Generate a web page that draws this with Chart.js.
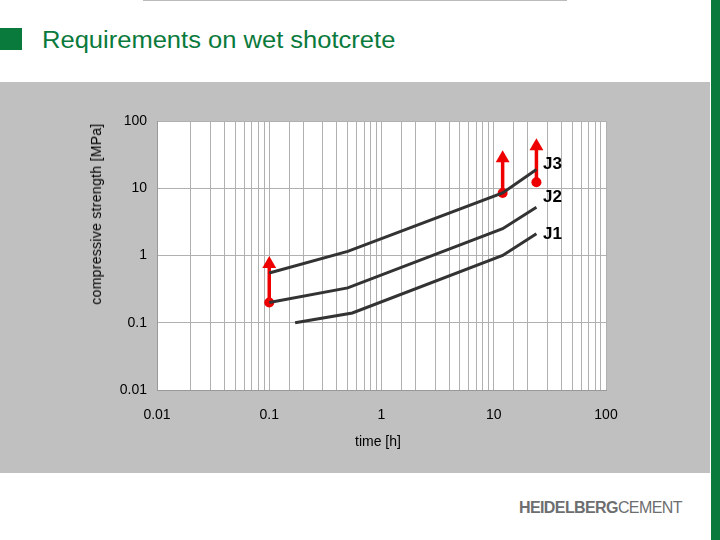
<!DOCTYPE html>
<html><head><meta charset="utf-8">
<script src="https://cdn.jsdelivr.net/npm/chart.js@4"></script>
<style>
body{margin:0;width:720px;height:540px;position:relative;background:#fff;font-family:"Liberation Sans",Arial,sans-serif;overflow:hidden}
.abs{position:absolute}
</style></head><body>
<div class="abs" style="left:143px;top:0;width:424px;height:1px;background:#bbb"></div>
<div class="abs" style="left:0;top:28px;width:22px;height:22px;background:#0a7a3c"></div>
<div class="abs" style="left:42px;top:27px;font-size:23px;color:#0a7a3c;transform:scaleX(1.11);transform-origin:left">Requirements on wet shotcrete</div>
<div class="abs" style="left:711px;top:0;width:9px;height:540px;background:#0a7a3c"></div>
<div class="abs" style="left:0;top:82px;width:710px;height:391px;background:#c0c0c0"></div>
<div class="abs" style="left:0;top:82px;width:710px;height:391px"><canvas id="c" width="710" height="391"></canvas></div>
<div class="abs" style="left:96px;top:214px;transform:translate(-50%,-50%) rotate(-90deg);font-size:14px;letter-spacing:0.3px;white-space:nowrap;color:#000">compressive strength [MPa]</div>
<div class="abs" style="left:355px;top:433px;font-size:14px">time [h]</div>
<div class="abs" style="left:543px;top:154px;font-size:17px;font-weight:bold">J3</div>
<div class="abs" style="left:543px;top:187px;font-size:17px;font-weight:bold">J2</div>
<div class="abs" style="left:543px;top:224px;font-size:17px;font-weight:bold">J1</div>
<div class="abs" style="left:519px;top:499px;font-size:16px;color:#6d6e70;letter-spacing:-0.6px"><b>HEIDELBERG</b>CEMENT</div>
<script>
const j3X=[0.1,0.5,12,24], j3Y=[0.55,1.15,8.5,19];
const j2X=[0.1,0.5,12,24], j2Y=[0.2,0.33,2.5,5.2];
const j1X=[0.17,0.55,12,24], j1Y=[0.1,0.14,1.0,2.1];
const arrows=[[0.1,0.2,0.75],[12,8.5,28],[24,12.3,42]];
const tickVals=[0.01,0.1,1,10,100];
const pts=(xs,ys)=>xs.map((x,i)=>({x,y:ys[i]}));
const line=(xs,ys)=>({data:pts(xs,ys),borderColor:'#333',borderWidth:3,pointRadius:0,showLine:true,tension:0});
const arrowSets=arrows.map(a=>({data:[{x:a[0],y:a[1]},{x:a[0],y:a[2]}],borderColor:'#e00',backgroundColor:'#e00',borderWidth:3.5,showLine:true,pointStyle:['circle','triangle'],pointRadius:[5,8],pointBorderWidth:0}));
const isDec=v=>Math.abs(Math.log10(v)-Math.round(Math.log10(v)))<1e-6;
const bg={id:'bg',beforeDraw(c){const a=c.chartArea,x=c.ctx;x.save();x.fillStyle='#fff';x.fillRect(a.left,a.top,a.right-a.left,a.bottom-a.top);x.restore();}};
new Chart(document.getElementById('c'),{type:'scatter',
data:{datasets:[line(j3X,j3Y),line(j2X,j2Y),line(j1X,j1Y),...arrowSets]},
options:{responsive:false,animation:false,layout:{padding:{left:0,top:39,right:104,bottom:0}},
plugins:{legend:{display:false},tooltip:{enabled:false}},
scales:{
x:{type:'logarithmic',min:0.01,max:100,grid:{color:'#b0b0b0',drawTicks:false},border:{color:'#999'},
 afterFit(s){s.height=83;},
 ticks:{autoSkip:false,maxRotation:0,padding:17,color:'#000',font:{size:14,family:'Liberation Sans'},callback(v){return isDec(v)?String(+v.toPrecision(3)):'';}}},
y:{type:'logarithmic',min:0.01,max:100,grid:{color:'#b0b0b0',drawTicks:false},border:{color:'#999'},
 afterFit(s){s.width=157;},
 afterBuildTicks(s){s.ticks=tickVals.map(v=>({value:v}));},
 ticks:{padding:10,color:'#000',font:{size:14,family:'Liberation Sans'},callback(v){return isDec(v)?String(+v.toPrecision(3)):'';}}}
}},plugins:[bg]});
</script></body></html>
